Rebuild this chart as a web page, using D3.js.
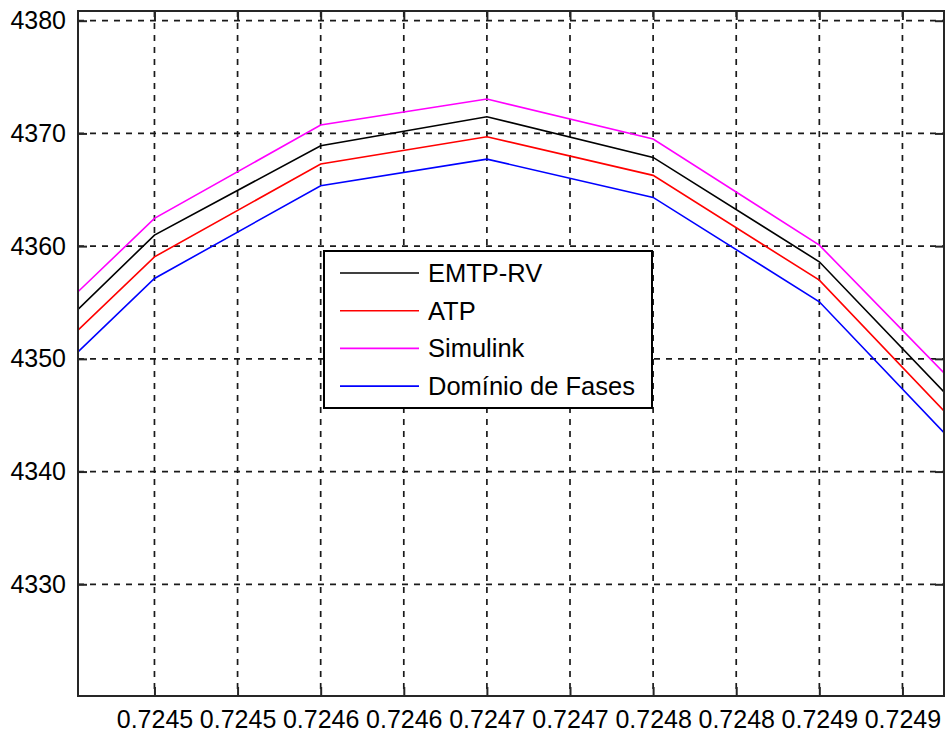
<!DOCTYPE html>
<html>
<head>
<meta charset="utf-8">
<script src="https://cdn.jsdelivr.net/npm/d3@7"></script>
<style>
  html, body { margin: 0; padding: 0; background: #fff; }
  svg { display: block; font-family: "Liberation Sans", Arial, sans-serif; }
</style>
</head>
<body>
<svg id="chart" width="949" height="732"></svg>
<script>
// Sample positions (time) and the four simulated curves
const xValues = [0.724454, 0.72450, 0.72460, 0.72470, 0.72480, 0.72490, 0.724975];
const emtpRV   = [4354.38, 4360.98, 4368.91, 4371.48, 4367.87, 4358.61, 4347.07];
const atp      = [4352.55, 4359.05, 4367.28, 4369.70, 4366.28, 4356.98, 4345.38];
const simulink = [4355.95, 4362.46, 4370.74, 4373.05, 4369.50, 4360.09, 4348.76];
const dominio  = [4350.62, 4357.13, 4365.36, 4367.72, 4364.32, 4355.06, 4343.46];

const seriesNames = ["EMTP-RV", "ATP", "Simulink", "Domínio de Fases"];
const seriesColors = ["#000000", "#ff0000", "#ff00ff", "#0000ff"];

const xTickValues = [0.72450, 0.72455, 0.72460, 0.72465, 0.72470, 0.72475, 0.72480, 0.72485, 0.72490, 0.72495];
const xTickLabels = ["0.7245", "0.7245", "0.7246", "0.7246", "0.7247", "0.7247", "0.7248", "0.7248", "0.7249", "0.7249"];
const yTickValues = [4330, 4340, 4350, 4360, 4370, 4380];

const svg = d3.select("#chart");
const plot = { left: 78, right: 944, top: 11, bottom: 696 };

const x = d3.scaleLinear().domain([0.724454, 0.724975]).range([plot.left, plot.right]);
const y = d3.scaleLinear().domain([4320.09, 4380.86]).range([plot.bottom, plot.top]);

// Grid lines
const grid = svg.append("g")
  .attr("stroke", "#1a1a1a").attr("stroke-width", 1.7).attr("stroke-dasharray", "6,6");
grid.selectAll("line.vx").data(xTickValues).join("line")
  .attr("x1", d => x(d)).attr("x2", d => x(d))
  .attr("y1", plot.top).attr("y2", plot.bottom);
grid.selectAll("line.hy").data(yTickValues).join("line")
  .attr("x1", plot.left).attr("x2", plot.right)
  .attr("y1", d => y(d)).attr("y2", d => y(d));

// Curves
const allSeries = [emtpRV, atp, simulink, dominio];
const line = d3.line().x((d, i) => x(xValues[i])).y(d => y(d));
svg.append("defs").append("clipPath").attr("id", "clip")
  .append("rect").attr("x", plot.left).attr("y", plot.top)
  .attr("width", plot.right - plot.left).attr("height", plot.bottom - plot.top);
svg.append("g").attr("clip-path", "url(#clip)")
  .selectAll("path").data(allSeries).join("path")
  .attr("d", d => line(d))
  .attr("fill", "none")
  .attr("stroke", (d, i) => seriesColors[i])
  .attr("stroke-width", 1.6);

// Axes with inward ticks on all four sides
const tickLen = 9;
const axisColor = "#262626";
const bottomAxis = d3.axisBottom(x).tickValues(xTickValues)
  .tickFormat((d, i) => xTickLabels[i]).tickSizeInner(-tickLen).tickSizeOuter(0).tickPadding(14);
const topAxis = d3.axisTop(x).tickValues(xTickValues).tickFormat("").tickSizeInner(-tickLen).tickSizeOuter(0);
const leftAxis = d3.axisLeft(y).tickValues(yTickValues).tickFormat(d3.format("d"))
  .tickSizeInner(-tickLen).tickSizeOuter(0).tickPadding(12);
const rightAxis = d3.axisRight(y).tickValues(yTickValues).tickFormat("").tickSizeInner(-tickLen).tickSizeOuter(0);

function styleAxis(g) {
  g.select(".domain").remove();
  g.selectAll(".tick line").attr("stroke", axisColor).attr("stroke-width", 2);
  g.selectAll(".tick text").attr("fill", "#000").style("font-size", "25px")
    .style("font-family", "'Liberation Sans', Arial, sans-serif");
}
svg.append("g").attr("transform", `translate(0,${plot.bottom})`).call(bottomAxis).call(styleAxis);
svg.append("g").attr("transform", `translate(0,${plot.top})`).call(topAxis).call(styleAxis);
svg.append("g").attr("transform", `translate(${plot.left},0)`).call(leftAxis).call(styleAxis);
svg.append("g").attr("transform", `translate(${plot.right},0)`).call(rightAxis).call(styleAxis);

// Frame
svg.append("rect")
  .attr("x", plot.left).attr("y", plot.top)
  .attr("width", plot.right - plot.left).attr("height", plot.bottom - plot.top)
  .attr("fill", "none").attr("stroke", axisColor).attr("stroke-width", 2);

// Legend
const legend = svg.append("g").attr("transform", "translate(324,251)");
legend.append("rect").attr("width", 328).attr("height", 157)
  .attr("fill", "#fff").attr("stroke", "#000").attr("stroke-width", 2);
const rows = legend.selectAll("g.row").data(seriesNames).join("g")
  .attr("transform", (d, i) => `translate(0,${22 + i * 37.7})`);
rows.append("line").attr("x1", 16).attr("x2", 95).attr("y1", 0).attr("y2", 0)
  .attr("stroke", (d, i) => seriesColors[i]).attr("stroke-width", 1.6);
rows.append("text").attr("x", 104).attr("y", 0).attr("dy", "0.35em")
  .style("font-size", "25.5px").attr("fill", "#000").text(d => d);
</script>
</body>
</html>
